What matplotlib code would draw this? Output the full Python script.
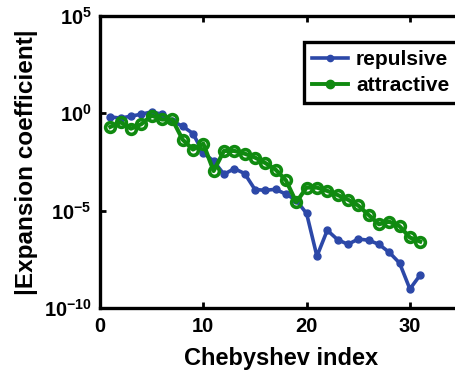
import numpy as np
import matplotlib as mpl
mpl.use('Agg')
import matplotlib.pyplot as plt
from matplotlib.lines import Line2D
from matplotlib.patches import Rectangle
from matplotlib.ticker import FixedLocator, FuncFormatter

plt.rcParams['font.family'] = ['Liberation Sans', 'DejaVu Sans']
plt.rcParams['font.weight'] = 'bold'
plt.rcParams['mathtext.fontset'] = 'custom'
plt.rcParams['mathtext.rm'] = 'Liberation Sans:bold'
plt.rcParams['mathtext.bf'] = 'Liberation Sans:bold'
plt.rcParams['mathtext.default'] = 'bf'
plt.rcParams['savefig.bbox'] = 'standard'

# Chebyshev indices and log10 of |coefficient| for each case
index = np.arange(1, 32)
log_repulsive = [-0.19, -0.25, -0.15, -0.05, 0.07, -0.05, -0.40, -0.67, -1.04, -2.04,
                 -2.45, -3.13, -2.84, -3.09, -3.91, -3.95, -3.90, -4.15, -4.46, -5.14,
                 -7.33, -6.00, -6.48, -6.72, -6.45, -6.51, -6.72, -7.13, -7.68, -9.01,
                 -8.29]
log_attractive = [-0.70, -0.46, -0.79, -0.56, -0.12, -0.32, -0.32, -1.35, -1.86, -1.56,
                  -2.96, -1.93, -1.93, -2.07, -2.27, -2.55, -2.89, -3.44, -4.56, -3.81,
                  -3.81, -3.98, -4.19, -4.43, -4.73, -5.21, -5.69, -5.56, -5.79, -6.37,
                  -6.58]
repulsive = 10.0 ** np.array(log_repulsive)
attractive = 10.0 ** np.array(log_attractive)

blue = '#2c48a8'
green = '#108a10'

W, H = 456, 377
fig = plt.figure(figsize=(W / 100, H / 100), dpi=100)
# axis runs 0..35, right edge sits just past the figure border
x0, x1 = 100, 100 + 35 * 10.33
ytop, ybot = 15.7, 308.3
ax = fig.add_axes([x0 / W, 1 - ybot / H, (x1 - x0) / W, (ybot - ytop) / H])

ax.semilogy(index, repulsive, '-o', color=blue, lw=2.6, ms=5, mfc=blue, mec=blue)
ax.semilogy(index, attractive, '-o', color=green, lw=3, ms=7, mfc='none', mec=green,
            mew=2.6)

ax.set_xlim(0, 35)
ax.set_ylim(1e-10, 1e5)
ax.xaxis.set_major_locator(FixedLocator([0, 10, 20, 30]))
ax.yaxis.set_major_locator(FixedLocator([1e-10, 1e-5, 1e0, 1e5]))
ax.yaxis.set_minor_locator(FixedLocator([]))
ax.yaxis.set_major_formatter(FuncFormatter(lambda v, p: r'$10^{%d}$' % round(np.log10(v))))
ax.tick_params(direction='in', length=4, width=2, labelsize=14.5, top=True, right=False,
               pad=6)
for s in ax.spines.values():
    s.set_linewidth(2.4)
ax.spines['right'].set_visible(False)

ax.set_xlabel('Chebyshev index', fontsize=17, fontweight='bold', labelpad=8)
ax.set_ylabel('|Expansion coefficient|', fontsize=17.5, fontweight='bold', labelpad=4)

# legend frame drawn by hand (open on the right, runs off the figure edge)
lx, lt, lb, lr = 304 / W, 1 - 41.7 / H, 1 - 102.7 / H, 1.05
fig.patches.append(Rectangle((lx, lb), lr - lx, lt - lb, transform=fig.transFigure,
                             facecolor='white', edgecolor='none', zorder=5))
fig.lines.append(Line2D([lr, lx, lx, lr], [lt, lt, lb, lb], transform=fig.transFigure,
                        color='black', lw=2.4, solid_joinstyle='miter', zorder=5.5))
handles = [Line2D([], [], color=blue, lw=2.6, marker='o', ms=4.5),
           Line2D([], [], color=green, lw=2.8, marker='o', ms=6)]
leg = fig.legend(handles, ['repulsive', 'attractive'], loc='upper left',
                 bbox_to_anchor=(304 / W, 1 - 41.7 / H), frameon=False,
                 prop={'size': 15, 'weight': 'bold'},
                 handlelength=1.7, handletextpad=0.4, labelspacing=0.35,
                 borderpad=0.4, borderaxespad=0)
leg.set_zorder(6)

fig.savefig('out.png', dpi=100, bbox_inches=None)
